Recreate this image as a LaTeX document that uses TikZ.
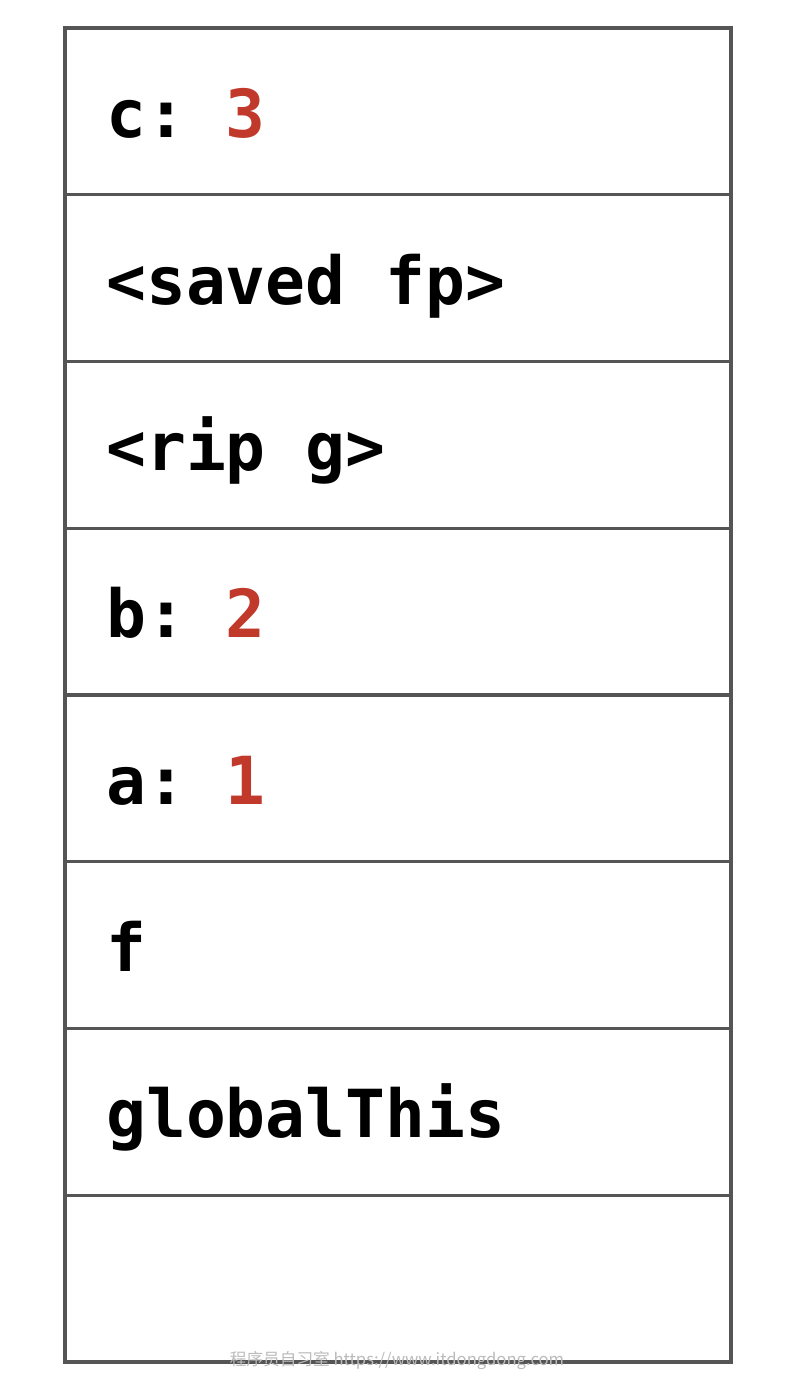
\documentclass[tikz,border=0pt]{standalone}
\usepackage{fontspec}
\setmonofont{DejaVu Sans Mono}
\newfontfamily\cjkfont{Noto Sans CJK SC}
\definecolor{linegray}{HTML}{555555}
\definecolor{valred}{HTML}{C0392B}
\definecolor{wmgray}{HTML}{BBBBBB}
\begin{document}
\begin{tikzpicture}[x=0.75pt,y=-0.75pt,
  cell/.style={draw=linegray,line width=2.3pt,minimum width=666*0.75pt,minimum height=166.75*0.75pt,inner sep=0pt,outer sep=0pt,anchor=north west},
  lbl/.style={anchor=base west,inner sep=0pt,font=\ttfamily\bfseries\fontsize{49.7}{52}\selectfont}]
\useasboundingbox (0,0) rectangle (794,1390);
\foreach \i in {0,...,7}{
  \node[cell] (r\i) at (65,{28+166.75*\i}) {};
}
\node[lbl] (t0) at (106,{111.4+26}) {c: \textcolor{valred}{3}};
\node[lbl] (t1) at (106,{278.1+26}) {<saved fp>};
\node[lbl] (t2) at (106,{444.9+26}) {<rip g>};
\node[lbl] (t3) at (106,{611.6+26}) {b: \textcolor{valred}{2}};
\node[lbl] (t4) at (106,{778.4+26}) {a: \textcolor{valred}{1}};
\node[lbl] (t5) at (106,{945.1+26}) {f};
\node[lbl] (t6) at (106,{1111.9+26}) {globalThis};
\node[anchor=base,inner sep=0pt,text=wmgray,font=\cjkfont\fontsize{12.5}{15}\selectfont] (wm) at (397,1365) {程序员自习室 https://www.itdongdong.com};
\end{tikzpicture}
\end{document}
